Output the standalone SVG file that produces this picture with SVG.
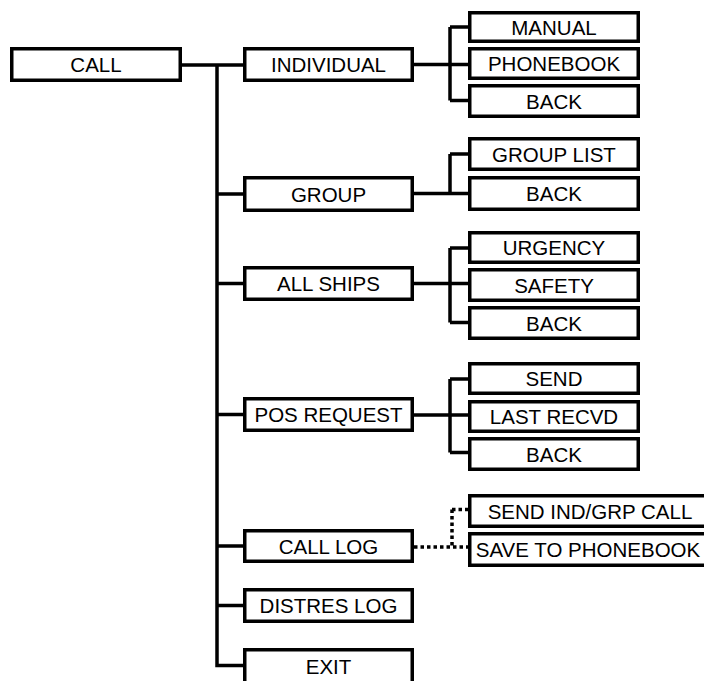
<svg xmlns="http://www.w3.org/2000/svg" width="704" height="681" viewBox="0 0 704 681">
<style>
.box{fill:#fff;stroke:#000;stroke-width:3.5}
.t{font-family:"Liberation Sans",Arial,sans-serif;font-size:20.5px;fill:#000;text-anchor:middle}
.c{fill:none;stroke:#000;stroke-width:3.5}
.d{fill:none;stroke:#000;stroke-width:3.5;stroke-dasharray:3.5 3}
</style>
<rect width="704" height="681" fill="#fff"/>
<g id="connectors">
<path class="c" d="M182 65H243M217 65V665.5H243M217 194H243M217 283.5H243M217 414.5H243M217 546H243M217 605.5H243"/>
<path class="c" d="M414 64.5H468M450 27V100.5M450 27H468M450 100.5H468"/>
<path class="c" d="M414 193.5H468M450 154V193.5M450 154H468"/>
<path class="c" d="M414 283.5H468M450 248V322.5M450 248H468M450 322.5H468"/>
<path class="c" d="M414 415H468M450 379V452.5M450 379H468M450 452.5H468"/>
<path class="d" d="M414 547H468M452 509.5V547M452 509.5H468"/>
</g>
<g id="n_call"><rect class="box" x="11.75" y="48.75" width="168.5" height="31.5"/><text class="t" x="96" y="72">CALL</text></g>
<g id="n_individual"><rect class="box" x="244.75" y="48.75" width="167.5" height="31.5"/><text class="t" x="328.5" y="72">INDIVIDUAL</text></g>
<g id="n_group"><rect class="box" x="244.75" y="177.75" width="167.5" height="32.5"/><text class="t" x="328.5" y="201.5">GROUP</text></g>
<g id="n_allships"><rect class="box" x="244.75" y="267.75" width="167.5" height="31.5"/><text class="t" x="328.5" y="291">ALL SHIPS</text></g>
<g id="n_posrequest"><rect class="box" x="244.75" y="398.75" width="167.5" height="31.5"/><text class="t" x="328.5" y="422">POS REQUEST</text></g>
<g id="n_calllog"><rect class="box" x="244.75" y="530.75" width="167.5" height="30.5"/><text class="t" x="328.5" y="553.5">CALL LOG</text></g>
<g id="n_distreslog"><rect class="box" x="244.75" y="589.75" width="167.5" height="31.5"/><text class="t" x="328.5" y="613">DISTRES LOG</text></g>
<g id="n_exit"><rect class="box" x="244.75" y="649.75" width="167.5" height="33"/><text class="t" x="328.5" y="674">EXIT</text></g>
<g id="n_manual"><rect class="box" x="469.75" y="12.75" width="168.5" height="28.5"/><text class="t" x="554" y="34.5">MANUAL</text></g>
<g id="n_phonebook"><rect class="box" x="469.75" y="48.75" width="168.5" height="29.5"/><text class="t" x="554" y="71">PHONEBOOK</text></g>
<g id="n_back1"><rect class="box" x="469.75" y="85.75" width="168.5" height="30.5"/><text class="t" x="554" y="108.5">BACK</text></g>
<g id="n_grouplist"><rect class="box" x="469.75" y="138.75" width="168.5" height="30.5"/><text class="t" x="554" y="161.5">GROUP LIST</text></g>
<g id="n_back2"><rect class="box" x="469.75" y="177.75" width="168.5" height="31.5"/><text class="t" x="554" y="201">BACK</text></g>
<g id="n_urgency"><rect class="box" x="469.75" y="232.75" width="168.5" height="29.5"/><text class="t" x="554" y="255">URGENCY</text></g>
<g id="n_safety"><rect class="box" x="469.75" y="269.75" width="168.5" height="30.5"/><text class="t" x="554" y="292.5">SAFETY</text></g>
<g id="n_back3"><rect class="box" x="469.75" y="307.75" width="168.5" height="30.5"/><text class="t" x="554" y="330.5">BACK</text></g>
<g id="n_send"><rect class="box" x="469.75" y="363.75" width="168.5" height="29.5"/><text class="t" x="554" y="386">SEND</text></g>
<g id="n_lastrecvd"><rect class="box" x="469.75" y="401.75" width="168.5" height="29.5"/><text class="t" x="554" y="424">LAST RECVD</text></g>
<g id="n_back4"><rect class="box" x="469.75" y="438.75" width="168.5" height="30.5"/><text class="t" x="554" y="461.5">BACK</text></g>
<g id="n_sendind"><rect class="box" x="469.75" y="495.75" width="242" height="30.5"/><text class="t" x="590" y="518.5">SEND IND/GRP CALL</text></g>
<g id="n_savetophonebook"><rect class="box" x="469.75" y="533.75" width="242" height="31.5"/><text class="t" x="588" y="557">SAVE TO PHONEBOOK</text></g>
</svg>
